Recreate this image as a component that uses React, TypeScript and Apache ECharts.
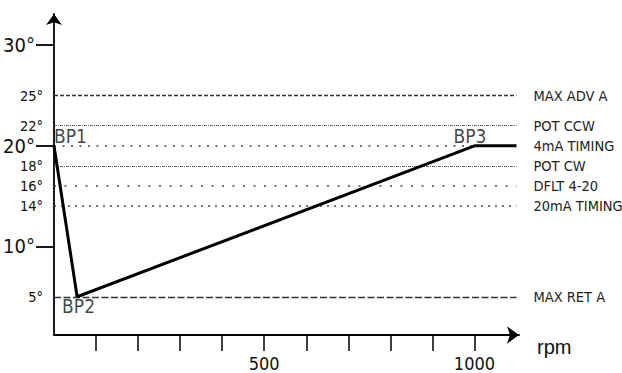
import React, { useEffect, useRef } from "react";
import * as echarts from "echarts";

// ---- data ----
const refValues = [25, 22, 20, 18, 16, 14, 5];
const refNames = ["MAX ADV A", "POT CCW", "4mA TIMING", "POT CW", "DFLT 4-20", "20mA TIMING", "MAX RET A"];
const refEndRpm = 1100;
const curveRpm = [0, 55, 1000, 1100];
const curveTiming = [20, 5, 20, 20];
const bpNames = ["BP1", "BP2", "BP3"];
const yMajorTicks = [10, 20, 30];
const yLabelValues = [5, 10, 14, 16, 18, 20, 22, 25, 30];
const xTickValues = [100, 200, 300, 400, 500, 600, 700, 800, 900, 1000];
const xLabelValues = [500, 1000];

// ---- styles (kept apart from data) ----
const refStyles = [
  { type: [4, 2], color: "#333", width: 1.3 },
  { type: [3, 1, 1, 1], color: "#666", width: 1.2 },
  { type: [2, 6.5], color: "#444", width: 1.6 },
  { type: [3, 1, 1, 1], color: "#666", width: 1.2 },
  { type: [2, 8.5], color: "#444", width: 1.6 },
  { type: [2, 5], color: "#444", width: 1.6 },
  { type: [7, 2.5], color: "#333", width: 1.3 },
];
const bpLabelPos = [
  [0, -10],
  [-15, 9],
  [-21, -10],
];

const FONT = "'Liberation Sans Narrow', 'DejaVu Sans Condensed', 'Arial Narrow', sans-serif";

export default function App() {
  const ref = useRef<HTMLDivElement>(null);
  useEffect(() => {
    if (!ref.current) return;
    const chart = echarts.init(ref.current, undefined, { renderer: "svg" });
    const markData = refValues.map((v, i) => [
      {
        coord: [0, v],
        lineStyle: { type: refStyles[i].type, color: refStyles[i].color, width: refStyles[i].width },
        label: { formatter: refNames[i] },
      },
      { coord: [refEndRpm, v] },
    ]);
    chart.setOption({
      animation: false,
      backgroundColor: "#fff",
      grid: { left: 54, right: 103, top: 14, bottom: 38, containLabel: false },
      xAxis: {
        type: "value",
        min: 0,
        max: 1106,
        interval: 100,
        splitLine: { show: false },
        name: "rpm",
        nameLocation: "end",
        nameGap: 18,
        nameTextStyle: {
          fontFamily: "'Liberation Sans', Arial, sans-serif",
          fontSize: 20,
          color: "#111",
          align: "left",
          verticalAlign: "top",
          lineHeight: 24,
        },
        axisLine: {
          show: true,
          symbol: ["none", "arrow"],
          symbolSize: [13, 12],
          lineStyle: { color: "#000", width: 1.8 },
        },
        axisTick: {
          show: true,
          inside: false,
          length: 16,
          customValues: xTickValues,
          lineStyle: { color: "#000", width: 1.5 },
        },
        axisLabel: {
          show: true,
          customValues: xLabelValues,
          formatter: (v: number) => String(v),
          margin: 19,
          fontFamily: FONT,
          fontSize: 18,
          color: "#111",
        },
      },
      yAxis: {
        type: "value",
        min: 1.2,
        max: 33.1,
        splitLine: { show: false },
        axisLine: {
          show: true,
          symbol: ["none", "arrow"],
          symbolSize: [12, 11],
          lineStyle: { color: "#000", width: 1.8 },
        },
        axisTick: {
          show: true,
          inside: false,
          length: 18,
          customValues: yMajorTicks,
          lineStyle: { color: "#000", width: 1.8 },
        },
        axisLabel: {
          show: true,
          customValues: yLabelValues,
          margin: 11,
          formatter: (v: number) => (yMajorTicks.includes(v) ? `{b|${v}°}` : `{s|${v}°}`),
          rich: {
            b: { fontFamily: FONT, fontSize: 20, color: "#111", padding: [0, 8, 0, 0] },
            s: { fontFamily: FONT, fontSize: 14.5, color: "#111" },
          },
        },
      },
      series: [
        {
          type: "line",
          data: [],
          silent: true,
          markLine: {
            silent: true,
            symbol: "none",
            animation: false,
            label: {
              show: true,
              position: "end",
              distance: 17,
              fontFamily: FONT,
              fontSize: 14.5,
              color: "#222",
            },
            data: markData,
          },
        },
        {
          type: "line",
          z: 5,
          showSymbol: false,
          symbol: "none",
          lineStyle: { color: "#000", width: 3 },
          data: curveRpm.map((r, i) => [r, curveTiming[i]]),
        },
        {
          type: "scatter",
          z: 6,
          symbolSize: 0,
          itemStyle: { color: "transparent" },
          data: bpNames.map((n, i) => ({
            value: [curveRpm[i], curveTiming[i]],
            name: n,
            label: {
              show: true,
              formatter: n,
              position: bpLabelPos[i],
              align: "left",
              verticalAlign: "middle",
              fontFamily: FONT,
              fontSize: 19,
              color: "#111",
            },
          })),
        },
      ],
    });
    return () => chart.dispose();
  }, []);
  return (
    <div
      ref={ref}
      style={{ position: "fixed", left: 0, top: 0, width: 622, height: 373, background: "#fff" }}
    />
  );
}
